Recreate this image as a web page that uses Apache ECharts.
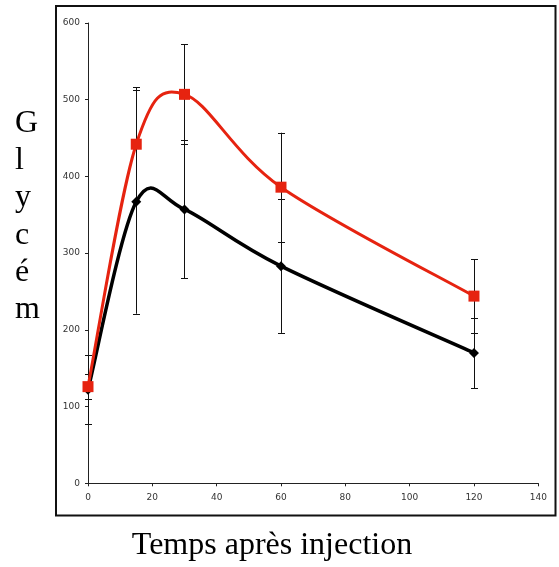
<!DOCTYPE html>
<html><head><meta charset="utf-8">
<script src="https://cdn.jsdelivr.net/npm/echarts@6/dist/echarts.min.js"></script>
<style>html,body{margin:0;padding:0;background:#fff}#c{width:559px;height:567px}</style>
</head><body><div id="c"></div>
<script>
const times = [0, 15, 30, 60, 120];
const blackValues = [122, 367, 357, 283, 170];
const blackErr = [45, 146, 90, 87, 46];
const redValues = [126, 442, 507, 386, 244];
const redErr = [16.5, 74, 65, 71, 48];
const yTitleLetters = ['G', 'l', 'y', 'c', 'é', 'm'];
const xTitle = 'Temps après injection';

const chart = echarts.init(document.getElementById('c'), null, {renderer: 'canvas'});
function errData(vals, errs) {
  return times.map((t, i) => [t, vals[i] - errs[i], vals[i] + errs[i]]);
}
function errRender(params, api) {
  const lo = api.coord([api.value(0), api.value(1)]);
  const hi = api.coord([api.value(0), api.value(2)]);
  const x = Math.round(lo[0]) + 0.5;
  const hw = 3.5;
  const st = {stroke: '#111', lineWidth: 1};
  return {type: 'group', children: [
    {type: 'line', shape: {x1: x, y1: hi[1], x2: x, y2: lo[1]}, style: st},
    {type: 'line', shape: {x1: x - hw, y1: Math.round(hi[1]) + 0.5, x2: x + hw, y2: Math.round(hi[1]) + 0.5}, style: st},
    {type: 'line', shape: {x1: x - hw, y1: Math.round(lo[1]) + 0.5, x2: x + hw, y2: Math.round(lo[1]) + 0.5}, style: st}
  ]};
}
// Excel-style smoothed segment (Catmull-Rom to Bezier, tension 1/6) in pixel space
function curveRender(vals, color, width) {
  return function (params, api) {
    const i = params.dataIndex;
    if (i >= times.length - 1) return {type: 'group', children: []};
    const P = times.map((t, j) => api.coord([t, vals[j]]));
    const p0 = P[Math.max(i - 1, 0)], p1 = P[i], p2 = P[i + 1], p3 = P[Math.min(i + 2, P.length - 1)];
    return {type: 'bezierCurve', shape: {
      x1: p1[0], y1: p1[1], x2: p2[0], y2: p2[1],
      cpx1: p1[0] + (p2[0] - p0[0]) / 6, cpy1: p1[1] + (p2[1] - p0[1]) / 6,
      cpx2: p2[0] - (p3[0] - p1[0]) / 6, cpy2: p2[1] - (p3[1] - p1[1]) / 6
    }, style: {stroke: color, lineWidth: width, fill: null, lineCap: 'round'}};
  };
}
const labelStyle = {color: '#333', fontSize: 9, fontFamily: 'DejaVu Sans'};
const red = '#e62310';
chart.setOption({
  animation: false,
  grid: {left: 88, right: 20.7, top: 23, bottom: 83.7},
  xAxis: {type: 'value', min: 0, max: 140, interval: 20,
    axisLine: {show: true, onZero: false, lineStyle: {color: '#222', width: 1}},
    axisTick: {show: true, length: 3, lineStyle: {color: '#222'}},
    axisLabel: Object.assign({margin: 10}, labelStyle),
    splitLine: {show: false}},
  yAxis: {type: 'value', min: 0, max: 600, interval: 100,
    axisLine: {show: true, lineStyle: {color: '#222', width: 1}},
    axisTick: {show: true, length: 3, lineStyle: {color: '#222'}},
    axisLabel: Object.assign({margin: 8}, labelStyle),
    splitLine: {show: false}},
  graphic: [
    {type: 'rect', shape: {x: 56, y: 6, width: 499.5, height: 509.5}, style: {fill: 'none', stroke: '#111', lineWidth: 2}, silent: true},
    {type: 'text', left: 15, top: 105, style: {text: yTitleLetters.join('\n'), font: '32px "Liberation Serif"', lineHeight: 37.2, fill: '#000'}},
    {type: 'text', x: 272, y: 546, style: {text: xTitle, font: '32px "Liberation Serif"', fill: '#000', align: 'center', verticalAlign: 'middle'}}
  ],
  series: [
    {type: 'custom', renderItem: errRender, data: errData(blackValues, blackErr), z: 1, silent: true},
    {type: 'custom', renderItem: errRender, data: errData(redValues, redErr), z: 1, silent: true},
    {type: 'custom', renderItem: curveRender(blackValues, '#000', 3.5), data: times.map((t, i) => [t, blackValues[i]]), z: 2, silent: true},
    {type: 'scatter', data: times.map((t, i) => [t, blackValues[i]]), z: 3,
      itemStyle: {color: '#000', opacity: 1}, symbol: 'diamond', symbolSize: 10},
    {type: 'custom', renderItem: curveRender(redValues, red, 3), data: times.map((t, i) => [t, redValues[i]]), z: 4, silent: true},
    {type: 'scatter', data: times.map((t, i) => [t, redValues[i]]), z: 5,
      itemStyle: {color: red, opacity: 1}, symbol: 'rect', symbolSize: 11}
  ]
});
</script></body></html>
